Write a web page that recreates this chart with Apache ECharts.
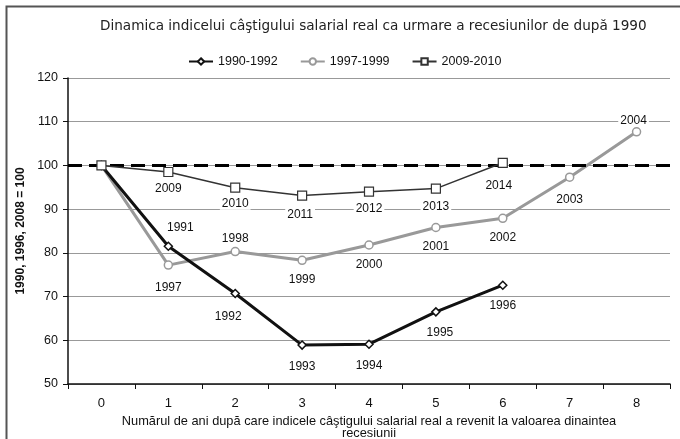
<!DOCTYPE html>
<html>
<head>
<meta charset="utf-8">
<script src="https://cdn.jsdelivr.net/npm/echarts@6/dist/echarts.min.js"></script>
<style>
  html, body { margin: 0; padding: 0; background: #fff; }
  #chart { width: 680px; height: 439px; }
</style>
</head>
<body>
<div id="chart"></div>
<script>
var years = ['0', '1', '2', '3', '4', '5', '6', '7', '8'];
var baseLevel = 100;

// index values, base year = 100
var rec1990 = [100, 81.5, 70.7, 58.9, 59.1, 66.5, 72.6, null, null];
var rec1997 = [100, 77.2, 80.3, 78.3, 81.8, 85.8, 87.9, 97.3, 107.7];
var rec2009 = [100, 98.5, 94.9, 93.1, 94.0, 94.7, 100.6, null, null];

// year printed next to each point
var lbl1990 = ['', '1991', '1992', '1993', '1994', '1995', '1996', '', ''];
var lbl1997 = ['', '1997', '1998', '1999', '2000', '2001', '2002', '2003', '2004'];
var lbl2009 = ['', '2009', '2010', '2011', '2012', '2013', '2014', '', ''];

var font = "'Liberation Sans', Arial, sans-serif";

// where each year label sits relative to its point
var place = {
    '1991': { position: 'top', offset: [12, 1] },
    '1992': { offset: [-7, 0], distance: 12 },
    '1993': { distance: 11 },
    '1994': { distance: 11 },
    '1995': { offset: [4, 0], distance: 10 },
    '1996': { distance: 10 },
    '1997': { distance: 12 },
    '1998': { position: 'top', distance: 2 },
    '2001': { distance: 8 },
    '2003': { distance: 12 },
    '2004': { position: 'top', distance: 0, offset: [-3, 0] },
    '2009': { distance: 6 },
    '2010': { distance: 5 },
    '2011': { offset: [-2, 0], distance: 8 },
    '2012': { distance: 6 },
    '2013': { distance: 7 },
    '2014': { offset: [-4, 0], distance: 12 }
};

function points(values, labels) {
    return values.map(function(v, i) {
        if (v === null) return null;
        var p = { value: v };
        if (!labels[i]) {
            p.label = { show: false };
        } else {
            var lab = { show: true, formatter: labels[i] };
            var extra = place[labels[i]] || {};
            for (var k in extra) lab[k] = extra[k];
            p.label = lab;
        }
        return p;
    });
}

var labelStyle = {
    show: true,
    position: 'bottom',
    distance: 9,
    color: '#111',
    fontSize: 12,
    fontFamily: font,
    backgroundColor: '#fff',
    padding: [0, 2]
};

var chart = echarts.init(document.getElementById('chart'));
chart.setOption({
    animation: false,
    backgroundColor: '#fff',
    // frame: only the left and top edges fall inside the picture
    graphic: [{
        type: 'polyline',
        shape: { points: [[6.5, 445], [6.5, 6.5], [690, 6.5]] },
        style: { fill: null, stroke: '#555', lineWidth: 2 },
        silent: true
    }],
    title: {
        text: 'Dinamica indicelui câştigului salarial real ca urmare a recesiunilor de după 1990',
        left: 95,
        top: 14,
        textStyle: { color: '#222', fontSize: 13.6, fontWeight: 'normal', fontFamily: "'DejaVu Sans', Verdana, sans-serif" }
    },
    legend: {
        top: 50,
        left: 183,
        itemWidth: 24,
        itemHeight: 8,
        itemGap: 22,
        textStyle: { color: '#111', fontSize: 12.5, fontFamily: font }
    },
    grid: { left: 68, right: 10, top: 78, bottom: 55, outerBoundsMode: 'none' },
    xAxis: {
        type: 'category',
        data: years,
        boundaryGap: true,
        name: 'Numărul de ani după care indicele câştigului salarial real a revenit la valoarea dinaintea\nrecesiunii',
        nameLocation: 'middle',
        nameGap: 31,
        nameTextStyle: { color: '#111', fontSize: 12.8, fontFamily: font, lineHeight: 12.5 },
        axisLine: { lineStyle: { color: '#111', width: 1.5 } },
        axisTick: { show: true, length: 5, lineStyle: { color: '#111' } },
        axisLabel: { color: '#111', fontSize: 13, fontFamily: font, margin: 13 }
    },
    yAxis: {
        type: 'value',
        min: 50,
        max: 120,
        interval: 10,
        name: '1990, 1996, 2008 = 100',
        nameLocation: 'middle',
        nameGap: 33,
        nameTextStyle: { color: '#111', fontSize: 12, fontWeight: 'bold', fontFamily: font },
        axisLine: { show: true, lineStyle: { color: '#111', width: 1.5 } },
        axisTick: { show: true, length: 5, lineStyle: { color: '#111' } },
        axisLabel: { color: '#111', fontSize: 12.5, fontFamily: font, margin: 10 },
        splitLine: { lineStyle: { color: '#999', width: 1 } }
    },
    series: [
        {
            name: '1990-1992',
            type: 'line',
            data: points(rec1990, lbl1990),
            symbol: 'diamond',
            symbolSize: 8,
            lineStyle: { color: '#111', width: 3 },
            itemStyle: { color: '#fff', borderColor: '#111', borderWidth: 1.5 },
            label: labelStyle,
            z: 4
        },
        {
            name: '1997-1999',
            type: 'line',
            data: points(rec1997, lbl1997),
            symbol: 'circle',
            symbolSize: 8,
            lineStyle: { color: '#999', width: 3 },
            itemStyle: { color: '#fff', borderColor: '#999', borderWidth: 1.5 },
            label: labelStyle,
            z: 3
        },
        {
            name: '2009-2010',
            type: 'line',
            data: points(rec2009, lbl2009),
            symbol: 'rect',
            symbolSize: 9,
            lineStyle: { color: '#333', width: 1.5 },
            itemStyle: { color: '#fff', borderColor: '#333', borderWidth: 1.2 },
            label: labelStyle,
            markLine: {
                silent: true,
                symbol: 'none',
                label: { show: false },
                lineStyle: { color: '#000', width: 3, type: [14, 7] },
                data: [{ yAxis: baseLevel }]
            },
            z: 5
        }
    ]
});
</script>
</body>
</html>
